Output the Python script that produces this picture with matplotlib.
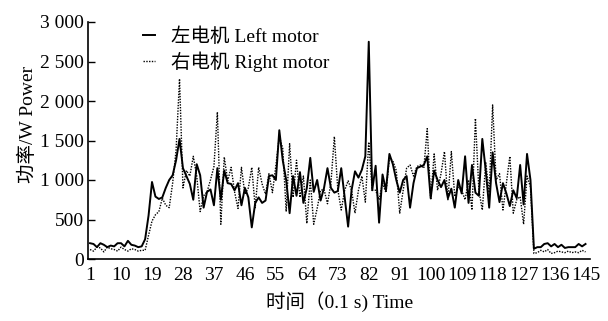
import matplotlib
matplotlib.use("Agg")
import matplotlib.pyplot as plt
import numpy as np

plt.rcParams['font.family'] = ['Liberation Serif', 'Noto Sans CJK SC']

time_idx = list(range(1, 146))

left_motor = [
    200, 190, 150, 200, 180, 150, 170, 160, 200, 200, 160, 230, 180, 170, 150, 160, 250, 550,   # 1-18
    975, 790, 760, 780, 900, 1000, 1060, 1250, 1520, 1150, 1050, 950, 750, 1200, 1060, 650,     # 19-34
    850, 880, 680, 1150, 750, 1120, 960, 950, 870, 960, 680, 900, 780, 400, 710, 780,           # 35-50
    710, 740, 1050, 1060, 1000, 1630, 1250, 1000, 580, 1050, 800, 1100, 710, 900, 1280, 850,    # 51-66
    1000, 740, 900, 1150, 900, 840, 860, 1150, 780, 410, 870, 1110, 1030, 1130, 1300, 2750,     # 67-82
    870, 1180, 460, 1070, 870, 1330, 1200, 1000, 840, 1000, 1050, 650, 960, 1150, 1170, 1190,   # 83-98
    1300, 770, 1120, 1000, 910, 1000, 770, 890, 650, 1000, 830, 1300, 710, 1190, 840, 800,      # 99-114
    1520, 1120, 650, 1350, 960, 720, 960, 830, 670, 870, 770, 1190, 690, 1330, 1000,            # 115-129
    130, 150, 150, 190, 200, 160, 190, 150, 180, 140, 150, 150, 150, 190, 160, 190              # 130-145
]

right_motor = [
    120, 100, 150, 140, 90, 150, 130, 120, 100, 150, 120, 100, 130, 120, 100, 110, 110, 300,    # 1-18
    480, 560, 600, 770, 680, 650, 960, 1380, 2280, 900, 1120, 1050, 1300, 1050, 600, 800,       # 19-34
    850, 1000, 1170, 1860, 440, 1290, 990, 1160, 850, 640, 1160, 820, 900, 1160, 650, 1160,     # 35-50
    950, 820, 1080, 840, 1180, 1550, 1400, 600, 1460, 780, 1250, 780, 1050, 450, 1000, 440,     # 51-66
    640, 870, 880, 700, 960, 1550, 880, 620, 870, 990, 870, 580, 870, 1050, 720, 1480,          # 67-82
    870, 870, 750, 960, 840, 1280, 1240, 1120, 580, 870, 1150, 1190, 1050, 1170, 1190, 1150,    # 83-98
    1650, 750, 1330, 870, 1080, 1360, 750, 1360, 790, 910, 870, 750, 1000, 620, 1780, 870,      # 99-114
    620, 1220, 840, 1950, 1000, 1080, 620, 960, 1300, 580, 750, 790, 440, 1050, 910,            # 115-129
    70, 80, 110, 90, 120, 70, 80, 100, 90, 80, 100, 80, 90, 80, 110, 90                         # 130-145
]

x_ticks = list(range(1, 146, 9))
y_ticks = [0, 500, 1000, 1500, 2000, 2500, 3000]
y_tick_labels = ['0', '500', '1 000', '1 500', '2 000', '2 500', '3 000']

fig = plt.figure(figsize=(6.08, 3.21), dpi=100)
ax = fig.add_axes([88/608, 62/321, (590-88)/608, (259-22)/321])

ax.plot(time_idx, left_motor, color='black', lw=1.4, ls='-', label='左电机 Left motor')
ax.plot(time_idx, right_motor, color='black', lw=1.0, ls=(0, (1, 1)), label='右电机 Right motor')

ax.set_xlim(0.4, 146.3)
ax.set_ylim(0, 3000)
ax.set_xticks(x_ticks)
ax.set_xticklabels([str(t) for t in x_ticks])
ax.set_yticks(y_ticks)
ax.set_yticklabels(y_tick_labels)
ax.tick_params(axis='y', direction='in', length=5, width=1, labelsize=14, pad=3)
ax.tick_params(axis='x', length=0, labelsize=14, pad=6)
for s in ['top', 'right']:
    ax.spines[s].set_visible(False)
for s in ['left', 'bottom']:
    ax.spines[s].set_linewidth(1.2)

ax.legend(loc='upper left', bbox_to_anchor=(0.095, 1.01), frameon=False, fontsize=14,
          handlelength=0.6, handletextpad=0.8, labelspacing=0.3, borderaxespad=0)

fig.text(28/608, 1 - 124/321, '功率/W Power', rotation=90, ha='center', va='center', fontsize=14)
fig.text(340/608, 1 - 302/321, '时间（0.1 s) Time', ha='center', va='center', fontsize=14)

fig.savefig('out.png', dpi=100)
